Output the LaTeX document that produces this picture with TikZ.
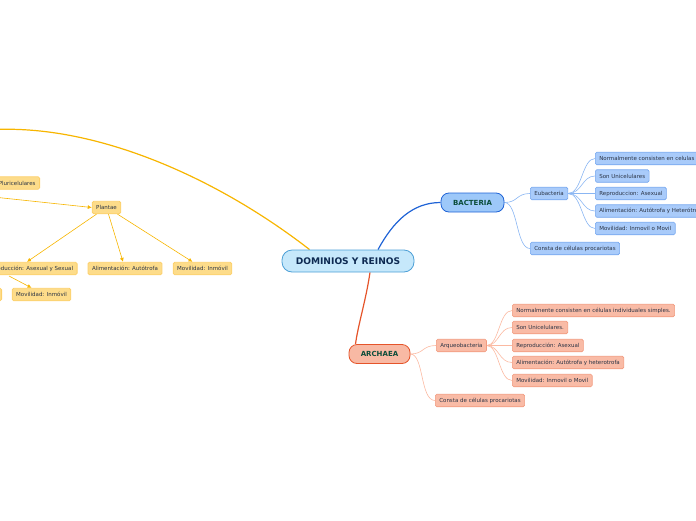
\documentclass[tikz,border=0pt]{standalone}
\usepackage{fontspec}
\setmainfont{DejaVu Sans}
\usetikzlibrary{backgrounds,arrows.meta,calc}
\definecolor{mainF}{HTML}{C6E8FB}
\definecolor{mainB}{HTML}{4C9FD6}
\definecolor{mainT}{HTML}{0E2A52}
\definecolor{bacF}{HTML}{9DC8F9}
\definecolor{bacB}{HTML}{1F63D6}
\definecolor{domT}{HTML}{0B4D3A}
\definecolor{bsubF}{HTML}{A9CBFA}
\definecolor{bsubB}{HTML}{74A6EF}
\definecolor{bline}{HTML}{8AB6F3}
\definecolor{arcF}{HTML}{F8B9A4}
\definecolor{arcB}{HTML}{E5542A}
\definecolor{asubF}{HTML}{F9BBA6}
\definecolor{asubB}{HTML}{F29A7E}
\definecolor{aline}{HTML}{FBB9A1}
\definecolor{yF}{HTML}{FDDC8A}
\definecolor{yB}{HTML}{FCD06B}
\definecolor{yline}{HTML}{F7B500}
\definecolor{subT}{HTML}{2B3445}
\begin{document}
\begin{tikzpicture}[x=1pt,y=-1pt,
  mainnode/.style={draw=mainB, fill=mainF, line width=0.8pt, rounded corners=10pt,
    minimum width=132pt, minimum height=22pt, inner sep=0pt,
    font=\fontsize{9.1}{10}\selectfont\bfseries, text=mainT},
  domnode/.style={line width=0.8pt, rounded corners=8pt, minimum height=19pt,
    inner sep=0pt, font=\fontsize{7}{8}\selectfont\bfseries, text=domT},
  subnode/.style={rounded corners=1.5pt, minimum height=12.5pt, inner xsep=4pt,
    inner ysep=0pt, font=\fontsize{5.5}{6.5}\selectfont, text=subT, line width=0.6pt},
  bsub/.style={subnode, draw=bsubB, fill=bsubF, anchor=west},
  asub/.style={subnode, draw=asubB, fill=asubF, anchor=west},
  ysub/.style={subnode, draw=yB, fill=yF, line width=0.8pt},
  bcon/.style={draw=bline, line width=0.6pt},
  acon/.style={draw=aline, line width=0.6pt},
  ycon/.style={draw=yline, line width=0.6pt, -{Latex[length=4pt,width=4pt]}}
]
\useasboundingbox (0,0) rectangle (696,520);
\clip (0,0) rectangle (696,520);

% central
\node[mainnode] (main) at (348,261) {DOMINIOS Y REINOS};

% bacteria
\node[domnode, draw=bacB, fill=bacF, minimum width=63pt] (bac) at (472.5,202.5) {BACTERIA};
\node[bsub] (eub) at (530,193.5) {Eubacteria};
\node[bsub] (b1) at (595,158.5) {Normalmente consisten en celulas individuales simples.};
\node[bsub] (b2) at (595,176) {Son Unicelulares};
\node[bsub] (b3) at (595,193.5) {Reproduccion: Asexual};
\node[bsub] (b4) at (595,211) {Alimentación: Autótrofa y Heterótrofa};
\node[bsub] (b5) at (595,228.5) {Movilidad: Inmovil o Movil};
\node[bsub] (bc) at (530,248.5) {Consta de células procariotas};

% archaea
\node[domnode, draw=arcB, fill=arcF, minimum width=61pt] (arc) at (379.5,354) {ARCHAEA};
\node[asub] (arq) at (436,345.5) {Arqueobacteria};
\node[asub] (a1) at (512,310.5) {Normalmente consisten en células individuales simples.};
\node[asub] (a2) at (512,327.5) {Son Unicelulares.};
\node[asub] (a3) at (512,345.5) {Reproducción: Asexual};
\node[asub] (a4) at (512,362.5) {Alimentación: Autótrofa y heterotrofa};
\node[asub] (a5) at (512,380.5) {Movilidad: Inmovil o Movil};
\node[asub] (ac) at (435,400.5) {Consta de células procariotas};

% left (yellow) branch
\node[ysub, anchor=east] (plur) at (40,183) {Pluricelulares};
\node[ysub] (plan) at (106.5,207.5) {Plantae};
\node[ysub, anchor=east] (prep) at (77.5,268.5) {Reproducción: Asexual y Sexual};
\node[ysub] (palim) at (125,268.5) {Alimentación: Autótrofa};
\node[ysub] (pmov) at (202.5,268.5) {Movilidad: Inmóvil};
\node[ysub] (pmov2) at (41.5,294.5) {Movilidad: Inmóvil};
\node[ysub, anchor=east, minimum width=30pt] (poff) at (2,294.5) {};

\coordinate (leftEnd) at (-5,129.5);
\coordinate (plSrc) at (-2,197.5);
\coordinate (repSrc) at (9,276);

\begin{pgfonlayer}{background}
  % main -> bacteria / archaea / left
  \draw[draw=bacB, line width=1.2pt] ($(main.north)+(30,0)$) .. controls (393,222) and (412,202.5) .. (bac.west);
  \draw[draw=arcB, line width=1.2pt] ($(main.south)+(22,0)$) .. controls (366,300) and (358,325) .. ($(arc.north)+(-24,0)$);
  \draw[draw=yline, line width=1.2pt] ($(main.north west)+(28,0)$) .. controls (220,180) and (100,125) .. (leftEnd);

  % bacteria connectors
  \draw[bcon] (bac.east) .. controls (518,202.5) and (516,193.5) .. (eub.west);
  \draw[bcon] (bac.east) .. controls (518,202.5) and (516,248.5) .. (bc.west);
  \foreach \n in {b1,b2,b3,b4,b5}
    \draw[bcon] (eub.east) .. controls (582,193.5) and ($(\n.west)+(-13,0)$) .. (\n.west);

  % archaea connectors
  \draw[acon] (arc.east) .. controls (424,354) and (422,345.5) .. (arq.west);
  \draw[acon] (arc.east) .. controls (424,354) and (420,400.5) .. (ac.west);
  \foreach \n in {a1,a2,a3,a4,a5}
    \draw[acon] (arq.east) .. controls (499,345.5) and ($(\n.west)+(-13,0)$) .. (\n.west);

  % yellow arrows
  \draw[ycon] (plSrc) -- (plan.west);
  \draw[ycon] ($(plan.south)+(-10,0)$) -- ($(prep.north)+(-2,0)$);
  \draw[ycon] ($(plan.south)+(2,0)$) -- ($(palim.north)+(-2,0)$);
  \draw[ycon] ($(plan.south)+(11,0)$) -- ($(pmov.north)+(-10,0)$);
  \draw[ycon] (repSrc) -- ($(pmov2.north)+(-10,0)$);
\end{pgfonlayer}
\end{tikzpicture}
\end{document}
